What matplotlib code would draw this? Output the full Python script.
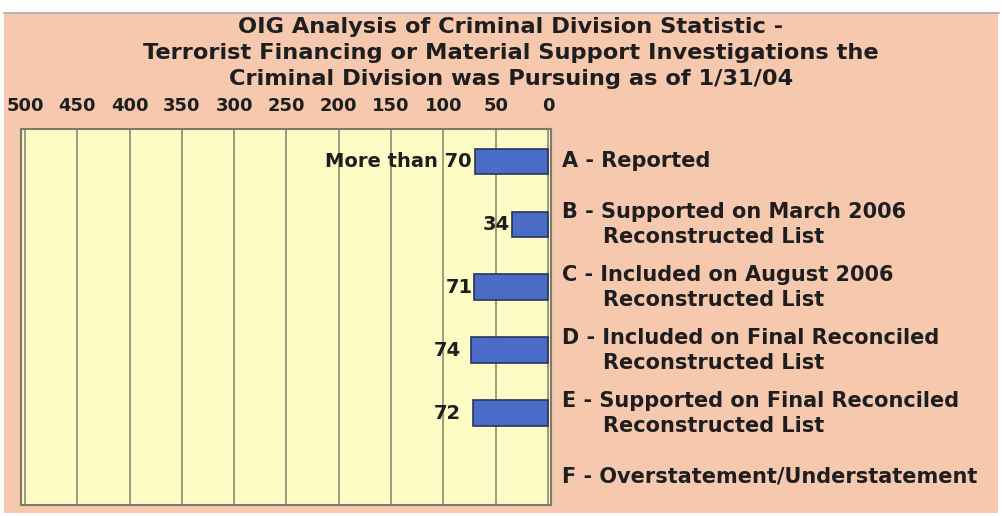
import matplotlib
matplotlib.use("Agg")
import matplotlib.pyplot as plt
from matplotlib.patches import Rectangle
from matplotlib.lines import Line2D

# ---- data ----
categories = ["A", "B", "C", "D", "E", "F"]
values = [70, 34, 71, 74, 72, None]
value_labels = ["More than 70", "34", "71", "74", "72", ""]
label_line1 = [
    "A - Reported",
    "B - Supported on March 2006",
    "C - Included on August 2006",
    "D - Included on Final Reconciled",
    "E - Supported on Final Reconciled",
    "F - Overstatement/Understatement",
]
label_line2 = ["", "Reconstructed List", "Reconstructed List",
               "Reconstructed List", "Reconstructed List", ""]
title_lines = [
    "OIG Analysis of Criminal Division Statistic -",
    "Terrorist Financing or Material Support Investigations the",
    "Criminal Division was Pursuing as of 1/31/04",
]
xticks = [500, 450, 400, 350, 300, 250, 200, 150, 100, 50, 0]

# ---- style ----
W, H = 1002, 516
FONT = "DejaVu Sans"
text_color = "#1e1e1e"
peach = "#f6c8ae"
plot_bg = "#fdfcc4"
bar_color = "#4a6cc6"
bar_edge = "#2a3360"
grid_color = "#9c9a80"
label_offsets_px = [3, 3, 1, 10, 12, 0]

fig = plt.figure(figsize=(W / 100, H / 100), dpi=100, facecolor="white")

def fx(px):
    return px / W

def fy(py):
    return 1 - py / H

# peach panel
fig.patches.append(Rectangle((fx(4), fy(513)), fx(998) - fx(4), fy(13) - fy(513),
                             transform=fig.transFigure, facecolor=peach,
                             edgecolor="none", zorder=0))
fig.lines.append(Line2D([fx(4), fx(999)], [fy(13), fy(13)], transform=fig.transFigure,
                        color="#b0aaa6", linewidth=1.2, zorder=0.5))

ax = fig.add_axes([fx(21), fy(505), fx(551) - fx(21), fy(129) - fy(505)])
ax.set_zorder(2)
ax.set_facecolor(plot_bg)

ypos = list(range(len(categories)))
for y, v in zip(ypos, values):
    if v is not None:
        ax.barh(y, v, height=0.40, color=bar_color, edgecolor=bar_edge,
                linewidth=1.2, zorder=3)

for y, v, lab, off in zip(ypos, values, value_labels, label_offsets_px):
    if v is not None and lab:
        ax.annotate(lab, xy=(v, y), xytext=(-off, 0), textcoords="offset pixels",
                    ha="right", va="center", fontsize=14, fontweight="bold",
                    family=FONT, color=text_color, zorder=4)

ax.set_xlim(503.8, -2.9)
ax.set_ylim(5.46, -0.51)
ax.set_xticks(xticks)
ax.set_xticklabels([str(t) for t in xticks])
ax.xaxis.tick_top()
ax.tick_params(axis="x", length=0, pad=10, labelsize=13, labelcolor=text_color)
for lab in ax.get_xticklabels():
    lab.set_fontweight("bold")
    lab.set_family(FONT)
ax.set_yticks([])
ax.grid(axis="x", color=grid_color, linewidth=1.4, zorder=1)
ax.set_axisbelow(True)
for s in ax.spines.values():
    s.set_color("#7c7a6c")
    s.set_linewidth(1.5)

# right-hand category labels
fig.canvas.draw()
for y, l1, l2 in zip(ypos, label_line1, label_line2):
    disp = ax.transData.transform((0, y))
    cy = H - disp[1]
    if l2:
        fig.text(fx(562), fy(cy - 12.5), l1, ha="left", va="center", fontsize=15,
                 fontweight="bold", family=FONT, color=text_color, zorder=3)
        fig.text(fx(603), fy(cy + 12.5), l2, ha="left", va="center", fontsize=15,
                 fontweight="bold", family=FONT, color=text_color, zorder=3)
    else:
        fig.text(fx(562), fy(cy), l1, ha="left", va="center", fontsize=15,
                 fontweight="bold", family=FONT, color=text_color, zorder=3)

# title
for line, base in zip(title_lines, [33, 59, 85]):
    fig.text(fx(511), fy(base), line, ha="center", va="baseline", fontsize=16.2,
             fontweight="bold", family=FONT, color=text_color, zorder=3)

fig.savefig("out.png", dpi=100, facecolor=fig.get_facecolor())
